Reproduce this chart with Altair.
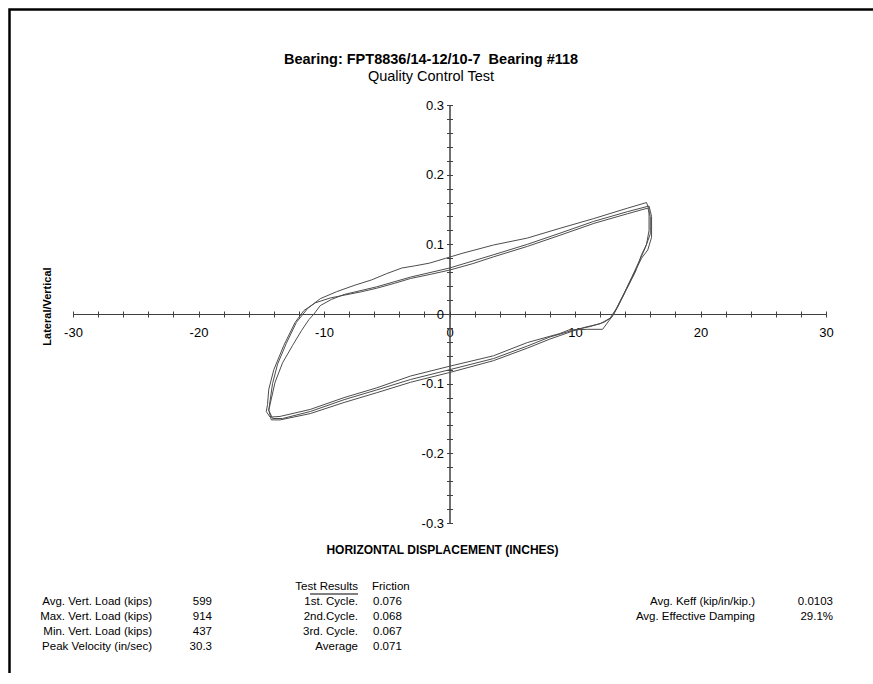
import altair as alt
import pandas as pd

FONT = "Liberation Sans"

# Hysteresis loops: horizontal displacement (in) vs lateral/vertical force ratio,
# three cycles, each traced as a closed path.
cycle1_disp = [-14.3, -14.1, -13.7, -13.0, -12.2, -11.3, -10.3, -9.0, -7.6, -6.2, -5.0, -3.8,
               -2.8, -1.6, -0.3, 1.0, 3.5, 6.2, 8.8, 11.5, 14.2, 15.7, 15.9, 15.9, 15.7, 15.3,
               14.8, 14.1, 13.4, 12.9, 12.3, 11.2, 9.9, 8.0, 6.2, 3.5, 0.0, -3.1, -5.8, -8.4,
               -11.1, -13.3, -14.1, -14.4, -14.3]
cycle1_ratio = [-0.125, -0.100, -0.072, -0.042, -0.012, 0.008, 0.022, 0.032, 0.041, 0.049, 0.058,
                0.066, 0.069, 0.073, 0.080, 0.087, 0.099, 0.109, 0.123, 0.137, 0.152, 0.160,
                0.150, 0.120, 0.100, 0.085, 0.060, 0.035, 0.010, -0.005, -0.012, -0.018, -0.023,
                -0.033, -0.046, -0.064, -0.080, -0.094, -0.109, -0.123, -0.140, -0.150, -0.150,
                -0.138, -0.125]

cycle2_disp = [-14.5, -14.4, -14.0, -13.2, -12.3, -11.6, -10.7, -9.5, -8.4, -7.0, -5.8, -4.4,
               -3.1, -1.5, 0.0, 1.8, 3.5, 6.2, 8.8, 11.5, 14.2, 15.8, 16.0, 16.0, 15.6, 15.1,
               14.5, 13.8, 13.1, 12.2, 11.0, 9.5, 8.8, 6.2, 3.5, 0.0, -3.1, -5.8, -8.4, -11.1,
               -13.5, -14.3, -14.6, -14.5]
cycle2_ratio = [-0.130, -0.108, -0.080, -0.045, -0.012, 0.005, 0.016, 0.023, 0.027, 0.032, 0.037,
                0.044, 0.051, 0.057, 0.063, 0.072, 0.082, 0.097, 0.113, 0.130, 0.144, 0.152,
                0.140, 0.115, 0.095, 0.075, 0.052, 0.025, 0.000, -0.022, -0.022, -0.023, -0.028,
                -0.041, -0.060, -0.075, -0.089, -0.106, -0.120, -0.137, -0.147, -0.148, -0.140,
                -0.130]

cycle3_disp = [-14.2, -13.9, -13.3, -12.5, -11.8, -11.2, -10.8, -10.3, -9.4, -8.4, -5.8, -3.1,
               0.0, 3.5, 6.2, 8.8, 11.5, 14.2, 15.9, 16.1, 16.1, 15.8, 15.3, 14.7, 14.0, 13.3,
               12.8, 12.0, 10.8, 9.9, 8.0, 6.2, 3.5, 0.0, -3.1, -5.8, -8.4, -11.1, -13.5, -14.2,
               -14.4, -14.2]
cycle3_ratio = [-0.122, -0.098, -0.070, -0.045, -0.024, -0.008, 0.000, 0.012, 0.021, 0.028, 0.039,
                0.053, 0.066, 0.085, 0.100, 0.116, 0.133, 0.147, 0.155, 0.140, 0.110, 0.092,
                0.080, 0.058, 0.033, 0.008, -0.006, -0.014, -0.019, -0.024, -0.036, -0.049,
                -0.067, -0.084, -0.098, -0.113, -0.127, -0.143, -0.152, -0.152, -0.138, -0.122]

# Summary table below the plot
load_labels = ["Avg. Vert. Load (kips)", "Max. Vert. Load (kips)",
               "Min. Vert. Load (kips)", "Peak Velocity (in/sec)"]
load_values = ["599", "914", "437", "30.3"]
cycle_labels = ["1st. Cycle.", "2nd.Cycle.", "3rd. Cycle.", "Average"]
friction_values = ["0.076", "0.068", "0.067", "0.071"]
keff_labels = ["Avg. Keff (kip/in/kip.)", "Avg. Effective Damping"]
keff_values = ["0.0103", "29.1%"]

x_ticks = list(range(-30, 31, 2))
y_ticks = [round(-0.3 + 0.02 * i, 2) for i in range(31)]

rows = []
for name, xs, ys in [("1", cycle1_disp, cycle1_ratio),
                     ("2", cycle2_disp, cycle2_ratio),
                     ("3", cycle3_disp, cycle3_ratio)]:
    for i, (xv, yv) in enumerate(zip(xs, ys)):
        rows.append({"cycle": name, "step": i, "disp": xv, "ratio": yv})
loops_df = pd.DataFrame(rows)
one_row = pd.DataFrame({"k": [0]})

W, H = 753, 418
AXIS_COLOR = "#404040"

x_scale = alt.Scale(domain=[-30, 30], nice=False, zero=False)
y_scale = alt.Scale(domain=[-0.3, 0.3], nice=False, zero=False)

axis_common = dict(
    tickSize=3, tickColor=AXIS_COLOR, domainColor=AXIS_COLOR, tickWidth=1, domainWidth=1,
    grid=False, labelFont=FONT, labelFontSize=13, labelColor="black",
    labelOverlap=False, labelFlush=False, labelBound=False,
)

axis_bottom = alt.Axis(
    orient="bottom", offset=-H / 2, values=x_ticks,
    labelExpr="datum.value % 10 == 0 ? '' + datum.value : ''",
    labelPadding=9,
    title="HORIZONTAL DISPLACEMENT (INCHES)", titleFont=FONT, titleFontSize=12,
    titleFontWeight="bold", titleColor="black", titleX=369, titleY=235,
    titleBaseline="middle", titleAlign="center",
    **axis_common,
)
axis_left = alt.Axis(
    orient="left", offset=-W / 2, values=y_ticks,
    labelExpr="abs(datum.value * 10 - round(datum.value * 10)) < 1e-6 ? '' + round(datum.value * 10) / 10 : ''",
    labelPadding=3,
    title="Lateral/Vertical", titleFont=FONT, titleFontSize=11, titleFontWeight="bold",
    titleColor="black", titleX=-402, titleY=201, titleBaseline="middle", titleAlign="center",
    titleAngle=270,
    **axis_common,
)
axis_top = alt.Axis(orient="top", offset=-H / 2, values=x_ticks, labels=False, title=None,
                    **axis_common)
axis_right = alt.Axis(orient="right", offset=-W / 2, values=y_ticks, labels=False, title=None,
                      **axis_common)

loops = alt.Chart(loops_df).mark_line(color="#4d4d4d", strokeWidth=1).encode(
    x=alt.X("disp:Q", scale=x_scale, axis=axis_bottom),
    y=alt.Y("ratio:Q", scale=y_scale, axis=axis_left),
    detail="cycle:N",
    order="step:Q",
)

# Second pair of axes so the ticks cross both sides of the axis lines
twin = alt.Chart(loops_df).mark_line(strokeOpacity=0).encode(
    x=alt.X("disp:Q", scale=x_scale, axis=axis_top),
    y=alt.Y("ratio:Q", scale=y_scale, axis=axis_right),
    detail="cycle:N",
    order="step:Q",
)


def text_block(lines, x, y, align, size=11.5, weight="normal"):
    # multi-line text: the first line is centred on y, later lines follow at lineHeight
    return alt.Chart(one_row).mark_text(
        text=lines, align=align, baseline="middle", lineHeight=15, font=FONT,
        fontSize=size, fontWeight=weight, color="black",
    ).encode(x=alt.value(x), y=alt.value(y))


title_text = text_block(["Bearing: FPT8836/14-12/10-7\u00a0 Bearing #118"], 358, -45, "center",
                        size=14.5, weight="bold")
subtitle_text = text_block(["Quality Control Test"], 358, -28, "center", size=14.5)

row0 = 497
tables = [
    text_block(load_labels, 79, row0, "right"),
    text_block(load_values, 139, row0, "right"),
    text_block(["Test Results"], 285, row0 - 15, "right"),
    text_block(cycle_labels, 285, row0, "right"),
    text_block(["Friction"], 299, row0 - 15, "left"),
    text_block(friction_values, 300, row0, "left"),
    text_block(keff_labels, 682, row0, "right"),
    text_block(keff_values, 760, row0, "right"),
]

underline = alt.Chart(one_row).mark_rule(color="black", strokeWidth=1).encode(
    x=alt.value(237), x2=alt.value(285), y=alt.value(row0 - 8)
)

# page frame: an open rectangle whose right and bottom edges fall off the page
frame = alt.Chart(one_row).mark_rect(
    fill="transparent", stroke="black", strokeWidth=2.5
).encode(
    x=alt.value(-63.5), x2=alt.value(880), y=alt.value(-95.5), y2=alt.value(640)
)

chart = alt.layer(
    loops, twin, title_text, subtitle_text, *tables, underline, frame
).resolve_axis(
    x="independent", y="independent"
).properties(
    width=W, height=H,
    autosize=alt.AutoSizeParams(type="none"),
    padding={"left": 73, "top": 105, "right": 47, "bottom": 150},
).configure(background="white").configure_view(strokeWidth=0, strokeOpacity=0)

chart.save("out.html", embed_options={"renderer": "svg", "actions": False})
